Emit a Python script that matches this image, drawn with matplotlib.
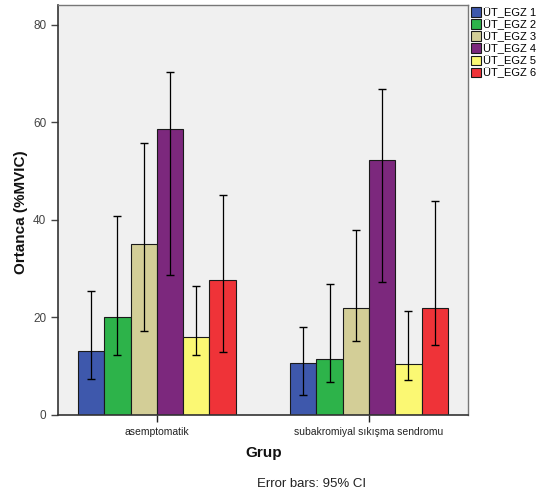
import matplotlib
matplotlib.use("Agg")
import matplotlib.pyplot as plt
import numpy as np

plt.rcParams["font.family"] = ["Liberation Sans", "DejaVu Sans"]

groups = ["asemptomatik", "subakromiyal sıkışma sendromu"]
series = ["ÜT_EGZ 1", "ÜT_EGZ 2", "ÜT_EGZ 3", "ÜT_EGZ 4", "ÜT_EGZ 5", "ÜT_EGZ 6"]
means = {
    "ÜT_EGZ 1": [13.1, 10.7],
    "ÜT_EGZ 2": [20.0, 11.4],
    "ÜT_EGZ 3": [35.0, 22.0],
    "ÜT_EGZ 4": [58.6, 52.4],
    "ÜT_EGZ 5": [15.9, 10.5],
    "ÜT_EGZ 6": [27.7, 22.0],
}
ci_low = {
    "ÜT_EGZ 1": [7.3, 4.0],
    "ÜT_EGZ 2": [12.4, 6.7],
    "ÜT_EGZ 3": [17.2, 15.1],
    "ÜT_EGZ 4": [28.8, 27.3],
    "ÜT_EGZ 5": [12.4, 7.1],
    "ÜT_EGZ 6": [12.9, 14.3],
}
ci_high = {
    "ÜT_EGZ 1": [25.4, 18.0],
    "ÜT_EGZ 2": [40.9, 26.8],
    "ÜT_EGZ 3": [55.8, 38.0],
    "ÜT_EGZ 4": [70.4, 66.8],
    "ÜT_EGZ 5": [26.5, 21.3],
    "ÜT_EGZ 6": [45.1, 43.8],
}
colors = ["#3E58AC", "#2DB34A", "#D3CE97", "#7C287D", "#FBF873", "#EF3338"]

fig = plt.figure(figsize=(5.55, 5.01), dpi=100)
ax = fig.add_axes([0.1045, 0.1717, 0.7385, 0.8183])
ax.set_facecolor("#F0F0F0")

x = np.arange(len(groups))
w = 0.124
n = len(series)
handles = []
for i, s in enumerate(series):
    xs = x + (i - (n - 1) / 2) * w
    m = np.array(means[s])
    lo = m - np.array(ci_low[s])
    hi = np.array(ci_high[s]) - m
    b = ax.bar(xs, m, width=w, color=colors[i], edgecolor="#1a1a1a", linewidth=0.8, zorder=2)
    ax.errorbar(xs, m, yerr=[lo, hi], fmt="none", ecolor="black", elinewidth=0.9,
                capsize=2.6, capthick=1.0, zorder=3)
    handles.append(b)

ax.set_xlim(-0.466, 1.466)
ax.set_ylim(0, 84.1)
ax.set_yticks([0, 20, 40, 60, 80])
ax.set_xticks(x)
ax.set_xticklabels(groups, fontsize=7.5, color="#222222")
ax.tick_params(axis="y", labelsize=8.5, colors="#444444", length=5, width=1)
ax.tick_params(axis="x", length=5, width=1, colors="#222222")
for sp in ["left", "bottom"]:
    ax.spines[sp].set_color("#333333")
    ax.spines[sp].set_linewidth(1.2)
for sp in ["top", "right"]:
    ax.spines[sp].set_color("#777777")
    ax.spines[sp].set_linewidth(1.0)

fig.text(21 / 555, 1 - 212 / 501, "Ortanca (%MVIC)", rotation=90, ha="center", va="center",
         fontsize=11, fontweight="bold", color="#111111")
fig.text(264 / 555, 1 - 453 / 501, "Grup", ha="center", va="center",
         fontsize=11, fontweight="bold", color="#111111")
fig.text(312 / 555, 1 - 484 / 501, "Error bars: 95% CI", ha="center", va="center",
         fontsize=9.5, color="#222222")

leg = fig.legend(handles, series, loc="upper left", bbox_to_anchor=(0.838, 0.997),
                 frameon=False, fontsize=8, handlelength=0.95, handleheight=0.95,
                 handletextpad=0.2, labelspacing=0.12, borderaxespad=0.1)

fig.savefig("out.png", dpi=100)
